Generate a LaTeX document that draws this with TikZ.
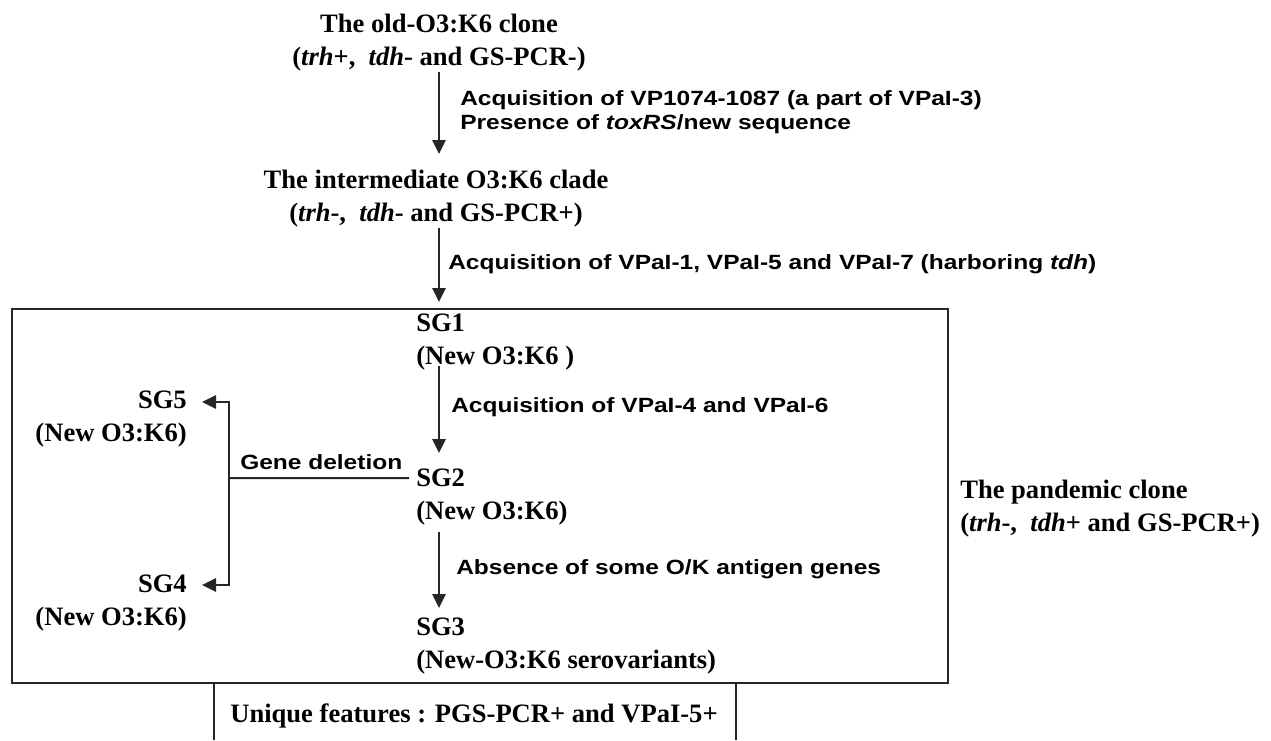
\documentclass[tikz,border=0pt]{standalone}
\usepackage{fontspec}
\setmainfont{Liberation Serif}
\newfontfamily\labfont[FakeStretch=1.19]{Liberation Sans}
\usetikzlibrary{arrows.meta,fit}
\definecolor{ln}{HTML}{262626}
\tikzset{
  clade/.style={font=\fontsize{20}{24.75}\selectfont\bfseries, inner sep=0pt, align=center},
  cladeL/.style={clade, align=left},
  cladeR/.style={clade, align=right},
  lab/.style={font=\labfont\fontsize{15.5}{18}\selectfont\bfseries, inner sep=0pt, align=left},
  link/.style={draw=ln, line width=1.5bp},
  arr/.style={link, -{Triangle[length=10.5bp,width=10bp]}},
}
\begin{document}
\begin{tikzpicture}[x=0.75bp,y=-0.75bp]
\useasboundingbox (0,0) rectangle (1271,740);
\fill[white] (0,0) rectangle (1271,740);

% lineage stages
\node[clade, anchor=north] (old) at (439,14)
  {The old-O3:K6 clone\\(\textit{trh}+,\ \ \textit{tdh}- and GS-PCR-)};
\node[clade, anchor=north] (inter) at (436,170)
  {The intermediate O3:K6 clade\\(\textit{trh}-,\ \ \textit{tdh}- and GS-PCR+)};

% pandemic clone frame and its subgroups
\node[draw=ln, line width=1.5bp, fit={(12,309)(948,683)}, inner sep=0pt] (pbox) {};
\node[cladeL, anchor=north west] (sg1) at (416,314) {SG1\\(New O3:K6 )};
\node[cladeL, anchor=north west] (sg2) at (416,469) {SG2\\(New O3:K6)};
\node[cladeL, anchor=north west] (sg3) at (416,618) {SG3\\(New-O3:K6 serovariants)};
\node[cladeR, anchor=north east] (sg5) at (187,391) {SG5\\(New O3:K6)};
\node[cladeR, anchor=north east] (sg4) at (187,575) {SG4\\(New O3:K6)};
\node[cladeL, anchor=north west] (pand) at (960,480)
  {The pandemic clone\\(\textit{trh}-,\ \ \textit{tdh}+ and GS-PCR+)};
\node[clade, anchor=north] (uniq) at (474,704) {Unique features : PGS-PCR+ and VPaI-5+};

% event labels
\node[lab, anchor=north west] (l1) at (460,90)
  {Acquisition of VP1074-1087 (a part of VPaI-3)\\Presence of \textit{toxRS}/new sequence};
\node[lab, anchor=base west] (l2) at (448,269.4)
  {Acquisition of VPaI-1, VPaI-5 and VPaI-7 (harboring \textit{tdh})};
\node[lab, anchor=base west] (l3) at (451,412.4) {Acquisition of VPaI-4 and VPaI-6};
\node[lab, anchor=base west] (l4) at (456,574.4) {Absence of some O/K antigen genes};
\node[lab, anchor=base west] (l5) at (240,469.4) {Gene deletion};

% main column of arrows
\coordinate (col) at (439,0);
\draw[arr, shorten >=12bp] (old.south) -- (old.south |- inter.north);
\draw[arr, shorten >=4.5bp] (col |- inter.south) -- (col |- pbox.north);
\draw[arr, shorten <=-3.4bp, shorten >=12bp] (col |- sg1.south) -- (col |- sg2.north);
\draw[arr, shorten <=4.9bp, shorten >=7.5bp] (col |- sg2.south) -- (col |- sg3.north);

% gene deletion branch
\coordinate (fork) at (229,478);
\draw[link] ([xshift=-5.25bp,yshift=-6.75bp]sg2.north west) -- (fork);
\draw[arr, shorten >=11.25bp] (fork) |- ([yshift=-8.25bp]sg5.north east);
\draw[arr, shorten >=11.25bp] (fork) |- ([yshift=-7.5bp]sg4.north east);

% frame below the pandemic box
\coordinate (bl) at (214,740);
\coordinate (br) at (736,740);
\draw[link] (bl |- pbox.south) -- (bl);
\draw[link] (br |- pbox.south) -- (br);
\end{tikzpicture}
\end{document}
